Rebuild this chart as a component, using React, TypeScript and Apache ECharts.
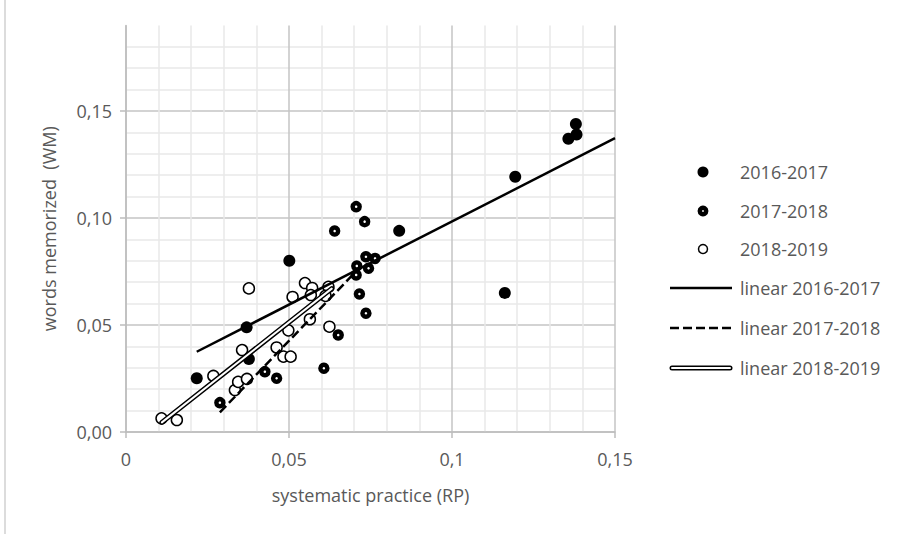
import React, { useEffect, useRef } from "react";
import * as echarts from "echarts";

const seriesNames = ["2016-2017", "2017-2018", "2018-2019"];
const trendNames = ["linear 2016-2017", "linear 2017-2018", "linear 2018-2019"];

const points2016: [number, number][] = [
  [0.0217, 0.0251], [0.037, 0.0489], [0.0377, 0.0341], [0.0501, 0.08],
  [0.0838, 0.094], [0.1162, 0.065], [0.1194, 0.1193], [0.1357, 0.137],
  [0.1382, 0.139], [0.138, 0.1439],
];
const points2017: [number, number][] = [
  [0.0706, 0.1053], [0.0732, 0.0983], [0.064, 0.0939], [0.0736, 0.0819],
  [0.0764, 0.0811], [0.0708, 0.0776], [0.0744, 0.0765], [0.0706, 0.0734],
  [0.0716, 0.0645], [0.0736, 0.0555], [0.0651, 0.0453], [0.0607, 0.0298],
  [0.0426, 0.0282], [0.0462, 0.0251], [0.0288, 0.0137],
];
const points2018: [number, number][] = [
  [0.0109, 0.0064], [0.0156, 0.0056], [0.0268, 0.0262], [0.0334, 0.0196],
  [0.0344, 0.0234], [0.0371, 0.0248], [0.0356, 0.0383], [0.0377, 0.0671],
  [0.0462, 0.0395], [0.0483, 0.0352], [0.0505, 0.0352], [0.0498, 0.0475],
  [0.0511, 0.0631], [0.0549, 0.0696], [0.0571, 0.0673], [0.0567, 0.064],
  [0.0564, 0.0527], [0.0621, 0.0678], [0.0612, 0.0636], [0.0624, 0.0492],
];
const trend2016: [number, number][] = [[0.0217, 0.0375], [0.15, 0.1373]];
const trend2017: [number, number][] = [[0.0288, 0.0092], [0.071, 0.0757]];
const trend2018: [number, number][] = [[0.011, 0.0045], [0.0631, 0.067]];

const xTicks = [0, 0.05, 0.1, 0.15];
const yTicks = [0, 0.05, 0.1, 0.15];
const xMax = 0.15;
const yMax = 0.19;
const minorStep = 0.01;

const FONT = "Open Sans";
const TEXT = "#595959";
const MAJOR = "#c4c4c4";
const MINOR = "#e8e8e8";
const AXIS = "#bdbdbd";

export default function App() {
  const ref = useRef<HTMLDivElement>(null);
  useEffect(() => {
    if (!ref.current) return;
    const chart = echarts.init(ref.current, null, { renderer: "svg" });
    const gridColors = [MAJOR, MINOR, MINOR, MINOR, MINOR];
    const rows = [172, 211, 249, 288, 328, 368];
    const legendX = 740;
    const legendGraphics: any[] = [
      { type: "circle", shape: { cx: 703, cy: rows[0], r: 5.5 }, style: { fill: "#000" } },
      { type: "circle", shape: { cx: 703, cy: rows[1], r: 3.2 }, style: { fill: "#fff", stroke: "#000", lineWidth: 4.5 } },
      { type: "circle", shape: { cx: 703, cy: rows[2], r: 4.5 }, style: { fill: "#fff", stroke: "#000", lineWidth: 1.5 } },
      { type: "line", shape: { x1: 670, y1: rows[3], x2: 732, y2: rows[3] }, style: { stroke: "#000", lineWidth: 2.5 } },
      { type: "line", shape: { x1: 670, y1: rows[4], x2: 732, y2: rows[4] }, style: { stroke: "#000", lineWidth: 2.5, lineDash: [9, 4] } },
      { type: "line", shape: { x1: 672, y1: rows[5], x2: 730, y2: rows[5] }, style: { stroke: "#000", lineWidth: 5, lineCap: "round" } },
      { type: "line", shape: { x1: 672, y1: rows[5], x2: 730, y2: rows[5] }, style: { stroke: "#fff", lineWidth: 2, lineCap: "round" } },
    ];
    const labels = [...seriesNames, ...trendNames];
    labels.forEach((t, i) => {
      legendGraphics.push({
        type: "text",
        x: legendX,
        y: rows[i],
        style: { text: t, fontFamily: FONT, fontSize: 18, fill: TEXT, align: "left", verticalAlign: "middle" },
      });
    });
    legendGraphics.push({
      type: "line",
      shape: { x1: 5, y1: 0, x2: 5, y2: 534 },
      style: { stroke: "#d0d0d0", lineWidth: 1.5 },
    });

    const gridAxisX = {
      type: "value", gridIndex: 0, min: 0, max: xMax, interval: minorStep,
      axisLine: { show: false }, axisTick: { show: false }, axisLabel: { show: false },
      splitLine: { show: true, lineStyle: { color: gridColors, width: 1.5 } },
      z: 0,
    };
    const gridAxisY = {
      type: "value", gridIndex: 0, min: 0, max: yMax, interval: minorStep,
      axisLine: { show: false }, axisTick: { show: false }, axisLabel: { show: false },
      splitLine: { show: true, showMaxLine: false, lineStyle: { color: gridColors, width: 1.5 } },
      z: 0,
    };

    chart.setOption({
      animation: false,
      backgroundColor: "#fff",
      grid: { left: 126, right: 901 - 615, top: 432 - yMax * 2140, bottom: 534 - 432 },
      xAxis: [
        {
          type: "value",
          min: 0,
          max: xMax,
          interval: 0.05,
          name: "systematic practice (RP)",
          nameLocation: "middle",
          nameGap: 54,
          nameTextStyle: { fontFamily: FONT, fontSize: 18, color: TEXT },
          axisLine: { show: true, onZero: false, lineStyle: { color: AXIS, width: 1.5 } },
          axisTick: { show: true, customValues: xTicks, length: 6, lineStyle: { color: AXIS, width: 1.5 } },
          axisLabel: {
            customValues: xTicks,
            margin: 18,
            fontFamily: FONT,
            fontSize: 18,
            color: TEXT,
            formatter: (v: number) => String(Math.round(v * 100) / 100).replace(".", ","),
          },
          splitLine: { show: false },
          z: 2,
        },
        gridAxisX,
      ],
      yAxis: [
        {
          type: "value",
          min: 0,
          max: yMax,
          interval: 0.05,
          name: "words memorized  (WM)",
          nameLocation: "middle",
          nameRotate: 90,
          nameGap: 68,
          nameTextStyle: { fontFamily: FONT, fontSize: 18, color: TEXT },
          axisLine: { show: true, onZero: false, lineStyle: { color: AXIS, width: 1.5 } },
          axisTick: { show: true, customValues: yTicks, length: 6, lineStyle: { color: AXIS, width: 1.5 } },
          axisLabel: {
            customValues: yTicks,
            margin: 14,
            fontFamily: FONT,
            fontSize: 18,
            color: TEXT,
            formatter: (v: number) => v.toFixed(2).replace(".", ","),
          },
          splitLine: { show: false },
          z: 2,
        },
        gridAxisY,
      ],
      series: [
        {
          name: seriesNames[0], type: "scatter", data: points2016, symbol: "circle", symbolSize: 12,
          itemStyle: { color: "#000", opacity: 1 }, z: 3,
        },
        {
          name: seriesNames[1], type: "scatter", data: points2017, symbol: "circle", symbolSize: 7,
          itemStyle: { color: "#fff", borderColor: "#000", borderWidth: 4.5, opacity: 1 }, z: 3,
        },
        {
          name: seriesNames[2], type: "scatter", data: points2018, symbol: "circle", symbolSize: 11,
          itemStyle: { color: "#fff", borderColor: "#000", borderWidth: 1.5, opacity: 1 }, z: 3,
        },
        {
          name: trendNames[0], type: "line", data: trend2016, showSymbol: false, symbol: "none",
          lineStyle: { color: "#000", width: 2.5 }, z: 4,
        },
        {
          name: trendNames[1], type: "line", data: trend2017, showSymbol: false, symbol: "none",
          lineStyle: { color: "#000", width: 2.5, type: [9, 4] }, z: 4,
        },
        {
          name: trendNames[2], type: "line", data: trend2018, showSymbol: false, symbol: "none",
          lineStyle: { color: "#000", width: 5, cap: "round" }, z: 4,
        },
        {
          name: trendNames[2] + " inner", type: "line", data: trend2018, showSymbol: false, symbol: "none",
          lineStyle: { color: "#fff", width: 2, cap: "round" }, z: 5,
        },
      ],
      graphic: legendGraphics,
    });
    return () => chart.dispose();
  }, []);
  return (
    <div
      ref={ref}
      style={{ position: "fixed", left: 0, top: 0, width: 901, height: 534, background: "#fff" }}
    />
  );
}
